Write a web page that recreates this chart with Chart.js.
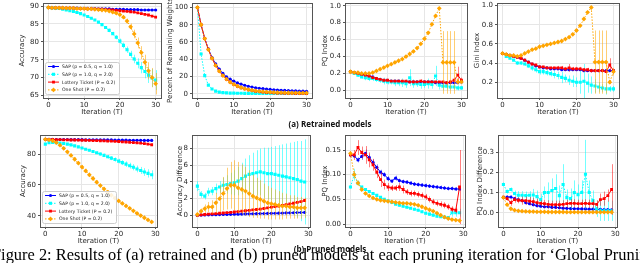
<!DOCTYPE html>
<html>
<head>
<meta charset="utf-8">
<script src="https://cdn.jsdelivr.net/npm/chart.js@4.4.1/dist/chart.umd.min.js"></script>
<style>
  html, body { margin: 0; padding: 0; background: #fff; }
  #fig { position: relative; width: 640px; height: 263px; overflow: hidden; background: #fff; }
  #fig canvas { position: absolute; }
  .cap { position: absolute; font-family: "Open Sans", sans-serif; font-weight: 700; font-size: 8px;
         white-space: nowrap; transform: translate(-50%, -50%); color: #111; }
  #figcap { position: absolute; left: -8px; top: 246.5px; font-family: "Liberation Serif", serif;
            font-size: 16.4px; line-height: 16px; white-space: nowrap; color: #000; }
</style>
</head>
<body>
<div id="fig">
  <canvas id="accR"></canvas>
  <canvas id="wR"></canvas>
  <canvas id="pqR"></canvas>
  <canvas id="giniR"></canvas>
  <canvas id="accP"></canvas>
  <canvas id="dAccP"></canvas>
  <canvas id="pqP"></canvas>
  <canvas id="dpqP"></canvas>
  <div class="cap" style="left:330px;top:123px">(a) Retrained models</div>
  <div class="cap" style="left:330px;top:247.5px">(b) Pruned models</div>
  <div id="figcap">Figure 2: Results of (a) retrained and (b) pruned models at each pruning iteration for ‘Global Pruning’</div>
</div>
<script>
// series order: SAP(0.5,1.0), SAP(1.0,2.0), Lottery Ticket, One Shot
const seriesNames = ["SAP (p = 0.5, q = 1.0)", "SAP (p = 1.0, q = 2.0)", "Lottery Ticket (P = 0.2)", "One Shot (P = 0.2)"];
const seriesColors = ["#0000ff", "#00ffff", "#ff0000", "#ffa500"];
const errColors = ["rgba(0,0,255,0.45)", "rgba(0,255,255,0.55)", "rgba(255,0,0,0.5)", "rgba(255,165,0,0.55)"];

const iterR = [0,1,2,3,4,5,6,7,8,9,10,11,12,13,14,15,16,17,18,19,20,21,22,23,24,25,26,27,28,29,30];
const iterP = [0,1,2,3,4,5,6,7,8,9,10,11,12,13,14,15,16,17,18,19,20,21,22,23,24,25,26,27,28,29];
const xTicks = ["0", "10", "20", "30"];

// (a) retrained: accuracy
const accR_sapA = [89.6,89.5,89.5,89.5,89.5,89.4,89.4,89.4,89.4,89.3,89.3,89.3,89.3,89.3,89.2,89.2,89.2,89.2,89.1,89.1,89.1,89.1,89.0,89.0,89.0,89.0,88.9,88.9,88.9,88.9,88.9];
const accR_sapB = [89.6,89.5,89.4,89.3,89.1,88.9,88.7,88.5,88.2,87.9,87.5,87.1,86.6,86.1,85.5,84.8,84.0,83.2,82.3,81.3,80.2,79.0,77.8,76.5,75.2,74.0,72.8,71.7,70.7,69.9,69.3];
const accR_lt   = [89.6,89.5,89.5,89.5,89.4,89.4,89.4,89.4,89.3,89.3,89.3,89.2,89.2,89.2,89.1,89.1,89.0,89.0,88.9,88.8,88.7,88.6,88.5,88.4,88.3,88.1,87.9,87.7,87.5,87.2,86.9];
const accR_os   = [89.6,89.5,89.5,89.5,89.5,89.4,89.4,89.4,89.3,89.3,89.3,89.2,89.2,89.1,89.0,88.9,88.8,88.6,88.3,88.0,87.6,86.9,85.8,84.2,82.2,79.7,77.0,74.3,71.9,70.0,68.3];
const accR_sapAErr = [0,0,0,0,0,0,0,0,0,0,0,0,0,0,0,0,0,0,0,0,0,0,0,0,0,0,0,0,0,0,0];
const accR_sapBErr = [0,0,0,0,0.1,0.1,0.1,0.1,0.2,0.2,0.2,0.2,0.3,0.3,0.3,0.4,0.4,0.5,0.5,0.6,0.7,0.8,0.9,1.0,1.2,1.4,1.6,1.9,2.2,2.5,2.8];
const accR_ltErr   = [0,0,0,0,0,0,0,0,0,0,0.1,0.1,0.1,0.1,0.1,0.1,0.1,0.1,0.1,0.2,0.2,0.2,0.2,0.2,0.2,0.2,0.3,0.3,0.3,0.3,0.3];
const accR_osErr   = [0,0,0,0,0,0,0,0,0,0,0,0,0,0,0,0.1,0.1,0.1,0.2,0.3,0.4,0.5,0.7,0.9,1.2,1.5,1.8,2.1,2.4,2.7,3.0];

// (a) retrained: percent of remaining weights
const wR_sapA = [100,80,64,52,42,34.5,28.5,23.5,19.5,16.8,14.5,12.5,11,9.7,8.6,7.7,6.9,6.3,5.8,5.3,4.9,4.6,4.3,4.0,3.8,3.6,3.4,3.2,3.0,2.9,2.8];
const wR_sapB = [100,46,21,10,5.5,3,1.8,1.2,0.9,0.7,0.6,0.5,0.5,0.4,0.4,0.4,0.3,0.3,0.3,0.3,0.3,0.3,0.2,0.2,0.2,0.2,0.2,0.2,0.2,0.2,0.2];
const wR_lt   = [100,80,64,51.2,41,32.8,26.2,21,16.8,13.4,10.7,8.6,6.9,5.5,4.4,3.5,2.8,2.3,1.8,1.4,1.2,0.9,0.7,0.6,0.5,0.4,0.3,0.2,0.2,0.2,0.1];
const wR_os   = [100,80,64,51.2,41,32.8,26.2,21,16.8,13.4,10.9,8.8,7.2,5.8,4.8,4.0,3.3,2.8,2.4,2.0,1.8,1.6,1.4,1.3,1.2,1.1,1.0,1.0,0.9,0.9,0.9];

// (a) retrained: PQ index
const pqR_sapA = [0.22,0.21,0.2,0.19,0.18,0.17,0.16,0.14,0.13,0.12,0.12,0.11,0.11,0.11,0.1,0.1,0.1,0.1,0.1,0.1,0.1,0.1,0.1,0.09,0.09,0.09,0.09,0.09,0.09,0.09,0.1];
const pqR_sapB = [0.22,0.2,0.18,0.16,0.15,0.14,0.14,0.13,0.12,0.11,0.1,0.1,0.09,0.09,0.09,0.08,0.15,0.08,0.08,0.07,0.07,0.08,0.07,0.17,0.06,0.05,0.05,0.04,0.04,0.03,0.03];
const pqR_lt   = [0.22,0.21,0.2,0.19,0.18,0.17,0.15,0.14,0.13,0.12,0.12,0.11,0.11,0.11,0.11,0.11,0.1,0.1,0.1,0.11,0.1,0.1,0.1,0.1,0.1,0.1,0.09,0.1,0.12,0.18,0.12];
const pqR_os   = [0.22,0.21,0.21,0.2,0.2,0.2,0.21,0.23,0.25,0.27,0.29,0.31,0.33,0.35,0.37,0.40,0.43,0.46,0.50,0.55,0.61,0.68,0.78,0.88,0.97,0.33,0.33,0.33,0.33,0.1,0.1];
const pqR_sapAErr = [0.01,0.01,0.01,0.01,0.01,0.01,0.01,0.01,0.01,0.01,0.01,0.01,0.01,0.01,0.01,0.01,0.01,0.01,0.01,0.01,0.01,0.01,0.01,0.01,0.01,0.01,0.01,0.01,0.01,0.01,0.01];
const pqR_sapBErr = [0.01,0.01,0.02,0.02,0.03,0.03,0.03,0.03,0.03,0.04,0.03,0.03,0.04,0.04,0.05,0.05,0.1,0.05,0.04,0.05,0.04,0.06,0.05,0.12,0.05,0.05,0.04,0.03,0.03,0.03,0.02];
const pqR_ltErr   = [0.01,0.01,0.01,0.01,0.01,0.01,0.01,0.01,0.01,0.01,0.01,0.01,0.01,0.01,0.01,0.01,0.01,0.02,0.01,0.02,0.01,0.01,0.01,0.01,0.01,0.01,0.01,0.02,0.02,0.1,0.03];
const pqR_osErr   = [0,0,0,0,0,0,0,0,0,0,0,0,0,0,0,0,0,0,0,0,0,0,0,0,0,0.37,0.37,0.37,0.37,0.03,0.02];

// (a) retrained: Gini index
const giniR_sapA = [0.5,0.49,0.48,0.47,0.46,0.45,0.43,0.41,0.39,0.37,0.36,0.35,0.35,0.34,0.34,0.34,0.33,0.33,0.33,0.33,0.33,0.33,0.32,0.32,0.32,0.32,0.32,0.32,0.32,0.32,0.32];
const giniR_sapB = [0.5,0.47,0.45,0.43,0.4,0.4,0.39,0.37,0.35,0.33,0.31,0.31,0.3,0.29,0.28,0.27,0.25,0.24,0.22,0.21,0.2,0.2,0.21,0.19,0.17,0.16,0.15,0.14,0.13,0.13,0.13];
const giniR_lt   = [0.5,0.49,0.48,0.47,0.46,0.45,0.43,0.41,0.39,0.38,0.36,0.36,0.35,0.35,0.35,0.35,0.35,0.34,0.35,0.34,0.34,0.34,0.33,0.33,0.32,0.32,0.32,0.32,0.31,0.38,0.32];
const giniR_os   = [0.5,0.49,0.48,0.48,0.47,0.48,0.5,0.52,0.54,0.55,0.57,0.58,0.59,0.6,0.61,0.62,0.63,0.65,0.67,0.7,0.74,0.79,0.86,0.93,0.98,0.41,0.41,0.41,0.41,0.2,0.31];
const giniR_sapAErr = [0.01,0.01,0.01,0.01,0.01,0.01,0.01,0.01,0.01,0.01,0.01,0.01,0.01,0.01,0.01,0.01,0.01,0.01,0.01,0.01,0.01,0.01,0.01,0.01,0.01,0.01,0.01,0.01,0.01,0.01,0.01];
const giniR_sapBErr = [0,0.01,0.01,0.01,0.02,0.02,0.02,0.02,0.03,0.03,0.03,0.03,0.03,0.03,0.04,0.04,0.06,0.04,0.05,0.06,0.05,0.12,0.18,0.1,0.09,0.07,0.05,0.04,0.06,0.03,0.03];
const giniR_ltErr   = [0.01,0.01,0.01,0.01,0.01,0.01,0.01,0.01,0.01,0.01,0.01,0.01,0.01,0.01,0.01,0.02,0.02,0.02,0.04,0.02,0.02,0.02,0.02,0.02,0.02,0.02,0.02,0.02,0.02,0.07,0.02];
const giniR_osErr   = [0,0,0,0,0,0,0,0,0,0,0,0,0,0,0,0,0,0,0,0,0,0,0,0,0,0.33,0.33,0.33,0.33,0.02,0.04];

// (b) pruned: accuracy
const accP_sapA = [89.6,89.6,89.6,89.5,89.5,89.5,89.5,89.4,89.4,89.4,89.4,89.3,89.3,89.3,89.3,89.2,89.2,89.2,89.2,89.1,89.1,89.1,89.1,89.0,89.0,89.0,89.0,88.9,88.9,88.9];
const accP_sapB = [86.5,87.5,87.6,87.5,87.2,86.9,86.5,86.0,85.4,84.7,84.0,83.2,82.5,81.7,80.9,80.1,79.2,78.3,77.4,76.5,75.5,74.5,73.5,72.5,71.5,70.4,69.4,68.4,67.5,66.6];
const accP_lt   = [89.6,89.5,89.5,89.4,89.4,89.3,89.3,89.2,89.2,89.1,89.0,89.0,88.9,88.8,88.8,88.7,88.6,88.5,88.4,88.3,88.2,88.0,87.9,87.7,87.5,87.3,87.1,86.8,86.5,86.1];
const accP_os   = [89.6,89.3,88.7,87.5,85.8,83.8,81.5,79.2,76.7,74.2,71.6,69.1,66.6,64.2,61.8,59.6,57.4,55.4,53.3,51.4,49.6,48.0,46.4,44.8,43.2,41.6,40.1,38.7,37.3,36.0];
const accP_sapAErr = [0.1,0.1,0.1,0.1,0.1,0.1,0.1,0.1,0.1,0.1,0.1,0.1,0.1,0.1,0.1,0.1,0.1,0.1,0.1,0.1,0.1,0.1,0.1,0.1,0.1,0.1,0.1,0.1,0.1,0.1];
const accP_sapBErr = [0.5,0.4,0.3,0.3,0.4,0.4,0.5,0.5,0.6,0.6,0.7,0.7,0.8,0.9,0.9,1.0,1.1,1.2,1.3,1.4,1.5,1.6,1.8,1.9,2.0,2.2,2.3,2.5,2.7,2.9];
const accP_ltErr   = [0.1,0.1,0.1,0.1,0.1,0.1,0.2,0.2,0.2,0.2,0.2,0.2,0.2,0.2,0.2,0.2,0.3,0.3,0.3,0.3,0.3,0.3,0.3,0.3,0.3,0.3,0.3,0.4,0.4,0.4];
const accP_osErr   = [0,0,0.2,0.4,0.6,0.8,1.0,1.1,1.2,1.3,1.4,1.4,1.4,1.4,1.3,1.3,1.2,1.2,1.1,1.1,1.0,1.0,0.9,0.9,0.8,0.8,0.7,0.7,0.6,0.6];

// (b) pruned: accuracy difference
const dAccP_sapA = [0,0.03,0.05,0.06,0.07,0.08,0.09,0.1,0.11,0.12,0.13,0.14,0.15,0.17,0.18,0.19,0.2,0.21,0.22,0.23,0.24,0.25,0.26,0.27,0.29,0.3,0.31,0.33,0.34,0.35];
const dAccP_sapB = [3.5,2.5,2.3,2.8,2.9,3.2,3.4,3.6,3.7,3.8,3.9,4.1,4.4,4.7,4.9,5.0,5.1,5.2,5.1,5.0,5.0,4.9,4.8,4.7,4.6,4.5,4.4,4.3,4.1,4.0];
const dAccP_lt   = [0,0.05,0.1,0.15,0.18,0.2,0.25,0.28,0.32,0.36,0.4,0.45,0.5,0.55,0.6,0.65,0.7,0.75,0.82,0.9,0.98,1.05,1.12,1.2,1.28,1.36,1.45,1.55,1.65,1.78];
const dAccP_os   = [0.1,0.5,0.8,1.0,1.0,1.5,2.0,2.6,3.2,3.6,3.6,3.3,3.1,2.9,2.6,2.3,2.1,1.9,1.7,1.5,1.4,1.3,1.2,1.1,1.1,1.0,1.0,0.9,0.9,0.9];
const dAccP_sapAErr = [0,0.05,0.05,0.05,0.05,0.05,0.05,0.05,0.05,0.05,0.05,0.05,0.05,0.05,0.05,0.05,0.05,0.05,0.05,0.05,0.05,0.05,0.05,0.05,0.05,0.05,0.05,0.05,0.05,0.05];
const dAccP_sapBErr = [0.6,0.4,0.4,0.5,0.5,0.6,0.7,0.9,1.1,1.3,1.5,1.7,1.9,2.1,2.3,2.5,2.7,2.8,3.0,3.1,3.2,3.4,3.6,3.8,4.0,4.2,4.4,4.6,4.8,5.1];
const dAccP_ltErr   = [0,0.05,0.05,0.05,0.05,0.1,0.1,0.1,0.1,0.1,0.1,0.1,0.1,0.1,0.15,0.15,0.15,0.15,0.15,0.15,0.15,0.2,0.2,0.2,0.2,0.2,0.2,0.2,0.2,0.2];
const dAccP_osErr   = [0.1,0.3,0.5,0.6,0.8,1.2,1.6,2.0,2.5,2.8,3.0,3.1,3.0,2.9,2.8,2.6,2.4,2.3,2.1,2.0,1.9,1.8,1.7,1.6,1.5,1.4,1.4,1.3,1.3,1.2];

// (b) pruned: PQ index
const pqP_sapA = [0.14,0.138,0.13,0.137,0.143,0.135,0.125,0.115,0.105,0.1,0.092,0.087,0.093,0.088,0.086,0.085,0.083,0.081,0.08,0.079,0.078,0.077,0.076,0.075,0.074,0.073,0.072,0.072,0.071,0.071];
const pqP_sapB = [0.075,0.1,0.083,0.075,0.07,0.066,0.062,0.058,0.054,0.05,0.047,0.044,0.04,0.038,0.036,0.034,0.032,0.03,0.028,0.025,0.022,0.02,0.018,0.016,0.015,0.014,0.013,0.023,0.023,0.023];
const pqP_lt   = [0.14,0.14,0.155,0.145,0.14,0.13,0.12,0.105,0.09,0.08,0.075,0.073,0.073,0.075,0.07,0.065,0.062,0.062,0.06,0.058,0.055,0.05,0.045,0.042,0.04,0.038,0.035,0.03,0.028,0.075];
const pqP_os   = [0.143,0.1,0.083,0.07,0.062,0.057,0.053,0.05,0.048,0.047,0.046,0.045,0.044,0.043,0.042,0.042,0.041,0.04,0.038,0.035,0.032,0.029,0.026,0.022,0.018,0.014,0.011,0.009,0.008,0.007];
const pqP_sapAErr = [0.004,0.004,0.005,0.007,0.008,0.006,0.006,0.006,0.005,0.005,0.005,0.004,0.005,0.004,0.004,0.004,0.004,0.004,0.004,0.004,0.004,0.004,0.004,0.004,0.004,0.004,0.004,0.004,0.004,0.004];
const pqP_sapBErr = [0.003,0.012,0.005,0.003,0.003,0.003,0.003,0.003,0.003,0.003,0.003,0.003,0.003,0.003,0.003,0.003,0.003,0.003,0.003,0.003,0.003,0.003,0.003,0.003,0.003,0.003,0.003,0.008,0.008,0.008];
const pqP_ltErr   = [0.005,0.01,0.015,0.012,0.018,0.015,0.012,0.012,0.015,0.01,0.008,0.006,0.006,0.008,0.008,0.006,0.006,0.006,0.006,0.006,0.006,0.006,0.006,0.006,0.006,0.006,0.006,0.006,0.006,0.075];
const pqP_osErr   = [0.005,0.008,0.005,0.003,0.002,0.002,0.002,0.002,0.002,0.002,0.002,0.002,0.002,0.002,0.002,0.002,0.002,0.002,0.002,0.002,0.002,0.002,0.002,0.002,0.002,0.002,0.002,0.002,0.002,0.002];

// (b) pruned: PQ index difference
const dpqP_sapA = [0.075,0.078,0.078,0.07,0.065,0.06,0.05,0.045,0.04,0.035,0.033,0.03,0.03,0.027,0.027,0.025,0.023,0.022,0.021,0.02,0.02,0.019,0.019,0.018,0.018,0.017,0.017,0.016,0.016,0.015];
const dpqP_sapB = [0.14,0.105,0.115,0.095,0.087,0.087,0.085,0.087,0.088,0.08,0.065,0.1,0.1,0.11,0.12,0.085,0.14,0.075,0.07,0.1,0.09,0.1,0.19,0.1,0.06,0.02,0.01,0.01,0.01,0.01];
const dpqP_lt   = [0.077,0.07,0.05,0.065,0.062,0.06,0.06,0.058,0.055,0.05,0.047,0.045,0.042,0.04,0.04,0.04,0.042,0.045,0.047,0.047,0.045,0.045,0.047,0.045,0.045,0.042,0.065,0.07,0.085,0.115];
const dpqP_os   = [0.075,0.04,0.02,0.013,0.01,0.008,0.007,0.006,0.006,0.005,0.005,0.005,0.004,0.004,0.004,0.004,0.004,0.003,0.003,0.003,0.003,0.003,0.003,0.003,0.003,0.003,0.003,0.003,0.003,0.003];
const dpqP_sapAErr = [0.008,0.008,0.008,0.008,0.008,0.008,0.008,0.008,0.008,0.008,0.008,0.008,0.008,0.008,0.008,0.008,0.008,0.008,0.008,0.008,0.008,0.008,0.008,0.008,0.008,0.008,0.008,0.008,0.008,0.008];
const dpqP_sapBErr = [0.01,0.01,0.01,0.015,0.02,0.02,0.02,0.02,0.03,0.03,0.03,0.03,0.05,0.06,0.07,0.05,0.1,0.04,0.05,0.06,0.05,0.06,0.17,0.06,0.05,0.04,0.05,0.05,0.05,0.05];
const dpqP_ltErr   = [0.005,0.01,0.015,0.015,0.015,0.02,0.02,0.02,0.02,0.02,0.015,0.02,0.02,0.02,0.02,0.02,0.02,0.02,0.02,0.02,0.02,0.02,0.02,0.02,0.02,0.02,0.03,0.035,0.03,0.125];

const markerStyle = ["circle", "rect", "rect", "rectRot"];
const markerSize = [1.6, 2.2, 2.0, 2.4];
const tickFont = { family: "DejaVu Sans", size: 7 };

// error bars drawn under each dataset's own line
const errorBars = {
  id: "errorBars",
  beforeDatasetDraw(chart, args) {
    const ds = chart.data.datasets[args.index];
    if (!ds.errors) return;
    const xs = chart.scales.x, ys = chart.scales.y, ctx = chart.ctx, a = chart.chartArea;
    ctx.save();
    ctx.beginPath();
    ctx.rect(a.left, a.top, a.right - a.left, a.bottom - a.top);
    ctx.clip();
    ctx.strokeStyle = ds.errColor;
    ctx.lineWidth = 1;
    ctx.beginPath();
    ds.data.forEach((p, j) => {
      const e = ds.errors[j];
      if (!e) return;
      const px = Math.round(xs.getPixelForValue(p.x)) + 0.5;
      ctx.moveTo(px, ys.getPixelForValue(p.y - e));
      ctx.lineTo(px, ys.getPixelForValue(p.y + e));
    });
    ctx.stroke();
    ctx.restore();
  }
};

// axes frame (all four spines) and optional legend box inside the plot
const frameLegend = {
  id: "frameLegend",
  afterDatasetsDraw(chart, args, opts) {
    const ctx = chart.ctx, a = chart.chartArea;
    ctx.save();
    ctx.strokeStyle = "#555";
    ctx.lineWidth = 1;
    ctx.strokeRect(Math.round(a.left) + 0.5, Math.round(a.top) + 0.5, Math.round(a.right - a.left), Math.round(a.bottom - a.top));
    if (opts.show) {
      const bw = 74, bh = 32;
      const bx = a.left + 2, by = a.bottom - 4 - bh;
      ctx.fillStyle = "rgba(255,255,255,0.85)";
      ctx.strokeStyle = "#cccccc";
      ctx.beginPath();
      ctx.roundRect(bx + 0.5, by + 0.5, bw, bh, 2);
      ctx.fill();
      ctx.stroke();
      ctx.font = "4.6px 'DejaVu Sans'";
      ctx.textBaseline = "middle";
      chart.data.datasets.forEach((ds, i) => {
        const ry = by + 4.5 + i * 7.8;
        ctx.strokeStyle = ds.borderColor;
        ctx.setLineDash(ds.borderDash || []);
        ctx.beginPath();
        ctx.moveTo(bx + 3, ry);
        ctx.lineTo(bx + 14, ry);
        ctx.stroke();
        ctx.setLineDash([]);
        ctx.fillStyle = ds.backgroundColor;
        Chart.helpers.drawPoint(ctx, { pointStyle: ds.pointStyle, radius: ds.pointRadius, rotation: 0, borderWidth: 0 }, bx + 8.5, ry);
        ctx.fillStyle = "#222";
        ctx.fillText(ds.label, bx + 17, ry + 0.3);
      });
    }
    ctx.restore();
  }
};

function panel(id, box, iters, series, yMin, yMax, yTicks, yTitle, yTitleOffset, showLegend) {
  const canvas = document.getElementById(id);
  const w = box.r - box.l + 46, h = box.b - box.t + 26;
  canvas.width = w; canvas.height = h;
  canvas.style.width = w + "px"; canvas.style.height = h + "px";
  canvas.style.left = (box.l - 40) + "px";
  canvas.style.top = (box.t - 6) + "px";

  const datasets = series.map((s, i) => ({
    label: seriesNames[i],
    data: iters.map((t, j) => ({ x: t, y: s.y[j] })),
    errors: s.err,
    errColor: errColors[i],
    borderColor: seriesColors[i],
    backgroundColor: seriesColors[i],
    borderWidth: 1,
    borderDash: (i === 1 || i === 3) ? [1.5, 1.5] : [],
    pointStyle: markerStyle[i],
    pointRadius: markerSize[i],
    pointBorderWidth: 0,
    tension: 0,
    order: 4 - i
  }));

  new Chart(canvas, {
    type: "line",
    data: { datasets },
    plugins: [errorBars, frameLegend],
    options: {
      responsive: false,
      animation: false,
      layout: { padding: { top: 6, right: 6, left: 0, bottom: 0 } },
      plugins: { legend: { display: false }, tooltip: { enabled: false }, frameLegend: { show: showLegend } },
      scales: {
        x: {
          type: "linear",
          min: iters[0] - 0.05 * (iters[iters.length - 1] - iters[0]),
          max: iters[iters.length - 1] + 0.05 * (iters[iters.length - 1] - iters[0]),
          bounds: "data",
          afterBuildTicks: sc => { sc.ticks = xTicks.map(s => ({ value: parseFloat(s) })); },
          afterFit: sc => { sc.height = 20; },
          ticks: { autoSkip: false, maxRotation: 0, font: tickFont, color: "#262626", padding: 0.5,
                   callback: (v, i) => xTicks[i] },
          grid: { color: "#e6e6e6", tickColor: "#555", tickLength: 2 },
          border: { display: false },
          title: { display: true, text: "Iteration (T)", font: tickFont, color: "#262626", padding: { top: 0, bottom: 1.8 } }
        },
        y: {
          type: "linear",
          min: yMin, max: yMax,
          bounds: "data",
          afterBuildTicks: sc => { sc.ticks = yTicks.map(s => ({ value: parseFloat(s) })); },
          afterFit: sc => { sc.width = 40; },
          ticks: { autoSkip: false, font: tickFont, color: "#262626", padding: 2,
                   callback: (v, i) => yTicks[i] },
          grid: { color: "#e6e6e6", tickColor: "#555", tickLength: 2 },
          border: { display: false },
          title: { display: true, text: yTitle, font: tickFont, color: "#262626", padding: { top: yTitleOffset - 4.2, bottom: 0 } }
        }
      }
    }
  });
}

panel("accR", { l: 43, t: 3, r: 161, b: 98 }, iterR,
  [{ y: accR_sapA, err: accR_sapAErr }, { y: accR_sapB, err: accR_sapBErr }, { y: accR_lt, err: accR_ltErr }, { y: accR_os, err: accR_osErr }],
  64.3, 90.8, ["65", "70", "75", "80", "85", "90"], "Accuracy", 19, true);

panel("wR", { l: 192, t: 3, r: 312, b: 98 }, iterR,
  [{ y: wR_sapA }, { y: wR_sapB }, { y: wR_lt }, { y: wR_os }],
  -5, 105, ["0", "20", "40", "60", "80", "100"], "Percent of Remaining Weights", 18, false);

panel("pqR", { l: 345, t: 3, r: 467, b: 98 }, iterR,
  [{ y: pqR_sapA, err: pqR_sapAErr }, { y: pqR_sapB, err: pqR_sapBErr }, { y: pqR_lt, err: pqR_ltErr }, { y: pqR_os, err: pqR_osErr }],
  -0.09, 1.03, ["0.0", "0.2", "0.4", "0.6", "0.8", "1.0"], "PQ Index", 20, false);

panel("giniR", { l: 497, t: 3, r: 619, b: 98 }, iterR,
  [{ y: giniR_sapA, err: giniR_sapAErr }, { y: giniR_sapB, err: giniR_sapBErr }, { y: giniR_lt, err: giniR_ltErr }, { y: giniR_os, err: giniR_osErr }],
  0.035, 1.025, ["0.2", "0.4", "0.6", "0.8", "1.0"], "Gini Index", 20, false);

panel("accP", { l: 40, t: 135, r: 157, b: 227 }, iterP,
  [{ y: accP_sapA, err: accP_sapAErr }, { y: accP_sapB, err: accP_sapBErr }, { y: accP_lt, err: accP_ltErr }, { y: accP_os, err: accP_osErr }],
  32.7, 92.3, ["40", "60", "80"], "Accuracy", 23, true);

panel("dAccP", { l: 192, t: 135, r: 310, b: 227 }, iterP,
  [{ y: dAccP_sapA, err: dAccP_sapAErr }, { y: dAccP_sapB, err: dAccP_sapBErr }, { y: dAccP_lt, err: dAccP_ltErr }, { y: dAccP_os, err: dAccP_osErr }],
  -1.4, 9.6, ["0", "2", "4", "6", "8"], "Accuracy Difference", 28, false);

panel("pqP", { l: 345, t: 135, r: 465, b: 227 }, iterP,
  [{ y: pqP_sapA, err: pqP_sapAErr }, { y: pqP_sapB, err: pqP_sapBErr }, { y: pqP_lt, err: pqP_ltErr }, { y: pqP_os, err: pqP_osErr }],
  -0.006, 0.18, ["0.00", "0.05", "0.10", "0.15"], "PQ Index", 20, false);

panel("dpqP", { l: 498, t: 135, r: 617, b: 227 }, iterP,
  [{ y: dpqP_sapA, err: dpqP_sapAErr }, { y: dpqP_sapB, err: dpqP_sapBErr }, { y: dpqP_lt, err: dpqP_ltErr }, { y: dpqP_os }],
  -0.07, 0.383, ["0.0", "0.1", "0.2", "0.3"], "PQ Index Difference", 22, false);
</script>
</body>
</html>
